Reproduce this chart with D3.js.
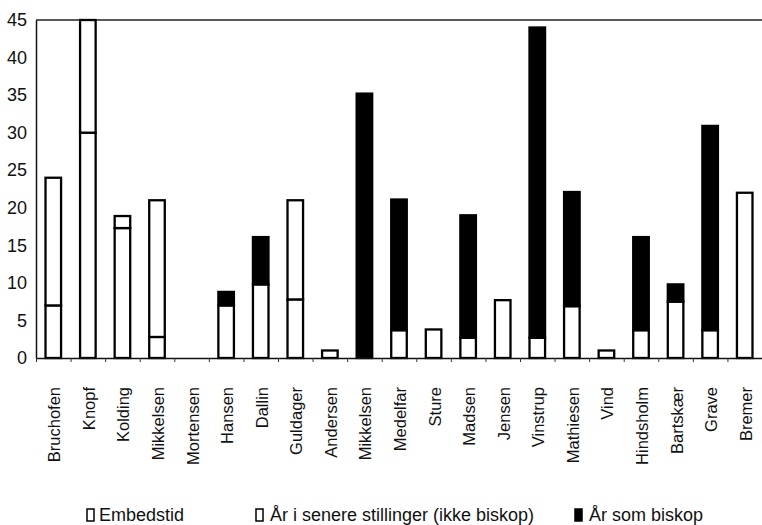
<!DOCTYPE html>
<html>
<head>
<meta charset="utf-8">
<script src="https://cdn.jsdelivr.net/npm/d3@7"></script>
<style>
  body { margin: 0; background: #fff; }
  text { font-family: "Liberation Sans", Arial, Helvetica, sans-serif; fill: #111; }
</style>
</head>
<body>
<div class="chart"></div>
<script>
const svgWidth = 762;
const svgHeight = 525;

// bishops / persons
const names = ["Bruchofen", "Knopf", "Kolding", "Mikkelsen", "Mortensen", "Hansen", "Dallin",
  "Guldager", "Andersen", "Mikkelsen", "Medelfar", "Sture", "Madsen", "Jensen", "Vinstrup",
  "Mathiesen", "Vind", "Hindsholm", "Bartskær", "Grave", "Bremer"];

// years in office (Embedstid)
const embed = [7, 30, 17.3, 2.8, 0, 7, 9.8, 7.8, 1, 0, 3.7, 3.8, 2.7, 7.7, 2.7, 6.9, 1, 3.7, 7.5, 3.7, 22];
// years in later positions (not bishop)
const later = [17, 15, 1.6, 18.2, 0, 0, 0, 13.2, 0, 0, 0, 0, 0, 0, 0, 0, 0, 0, 0, 0, 0];
// years as bishop
const bishop = [0, 0, 0, 0, 0, 1.8, 6.3, 0, 0, 35.2, 17.4, 0, 16.3, 0, 41.3, 15.2, 0, 12.4, 2.3, 27.2, 0];

const yTicks = [0, 5, 10, 15, 20, 25, 30, 35, 40, 45];
const legendLabels = ["Embedstid", "År i senere stillinger (ikke biskop)", "År som biskop"];

const margin = { top: 20, right: 0, bottom: 167, left: 36 };
const width = svgWidth - margin.left - margin.right;
const height = svgHeight - margin.top - margin.bottom;

const svg = d3.select(".chart")
  .append("svg")
  .attr("width", svgWidth)
  .attr("height", svgHeight);

const chartGroup = svg.append("g")
  .attr("transform", `translate(${margin.left}, ${margin.top})`);

// scales
const xBand = d3.scaleBand()
  .domain(d3.range(names.length))
  .range([0, width]);

const xEdge = d3.scaleLinear()
  .domain([0, names.length])
  .range([0, width]);

const yLinearScale = d3.scaleLinear()
  .domain([0, 45])
  .range([height, 0]);

// stacked data
const rows = names.map((n, i) => ({ i: i, embed: embed[i], later: later[i], bishop: bishop[i] }));
const stack = d3.stack().keys(["embed", "later", "bishop"]);
const series = stack(rows);

// top border line
chartGroup.append("line")
  .attr("x1", 0).attr("x2", width)
  .attr("y1", 0).attr("y2", 0)
  .attr("stroke", "#222")
  .attr("stroke-width", 1.5);

// bars
const barW = xBand.bandwidth() * 0.45;
const fills = { embed: "#fff", later: "#fff", bishop: "#000" };

series.forEach(function (s) {
  chartGroup.append("g")
    .selectAll("rect")
    .data(s.filter(d => d[1] - d[0] > 0))
    .enter()
    .append("rect")
    .attr("x", d => xBand(d.data.i) + (xBand.bandwidth() - barW) / 2)
    .attr("y", d => yLinearScale(d[1]))
    .attr("width", barW)
    .attr("height", d => yLinearScale(d[0]) - yLinearScale(d[1]))
    .attr("fill", fills[s.key])
    .attr("stroke", "#000")
    .attr("stroke-width", 2.3);
});

// y axis
const leftAxis = d3.axisLeft(yLinearScale)
  .tickValues(yTicks)
  .tickSize(0)
  .tickPadding(9);

const yAxis = chartGroup.append("g").call(leftAxis);
yAxis.select(".domain").attr("stroke", "#111").attr("stroke-width", 1.5);
yAxis.selectAll("text")
  .attr("font-size", "18px")
  .attr("font-family", "Liberation Sans, Arial, sans-serif")
  .attr("fill", "#111");

// x axis with ticks between categories
const bottomAxis = d3.axisBottom(xEdge)
  .tickValues(d3.range(names.length + 1))
  .tickFormat("")
  .tickSize(4)
  .tickSizeOuter(0);

const xAxis = chartGroup.append("g")
  .attr("transform", `translate(0, ${height})`)
  .call(bottomAxis);
xAxis.select(".domain").attr("stroke", "#111").attr("stroke-width", 1.5);
xAxis.selectAll(".tick line").attr("stroke", "#333");

// rotated category labels
chartGroup.append("g")
  .selectAll("text")
  .data(names)
  .enter()
  .append("text")
  .attr("transform", (d, i) => `translate(${xBand(i) + xBand.bandwidth() / 2 + 7}, ${height + 29}) rotate(-90)`)
  .attr("text-anchor", "end")
  .attr("font-size", "16.5px")
  .text(d => d);

// legend
const legend = svg.append("g")
  .attr("transform", `translate(0, ${svgHeight - 4})`);

const legendX = [87, 256, 575];
const legendFill = ["#fff", "#fff", "#000"];

legendLabels.forEach(function (lab, i) {
  legend.append("rect")
    .attr("x", legendX[i])
    .attr("y", -12)
    .attr("width", 7)
    .attr("height", 12)
    .attr("fill", legendFill[i])
    .attr("stroke", "#000")
    .attr("stroke-width", 1.5);
  legend.append("text")
    .attr("x", legendX[i] + (i === 0 ? 12 : 14))
    .attr("y", 0)
    .attr("font-size", "18px")
    .text(lab);
});
</script>
</body>
</html>
